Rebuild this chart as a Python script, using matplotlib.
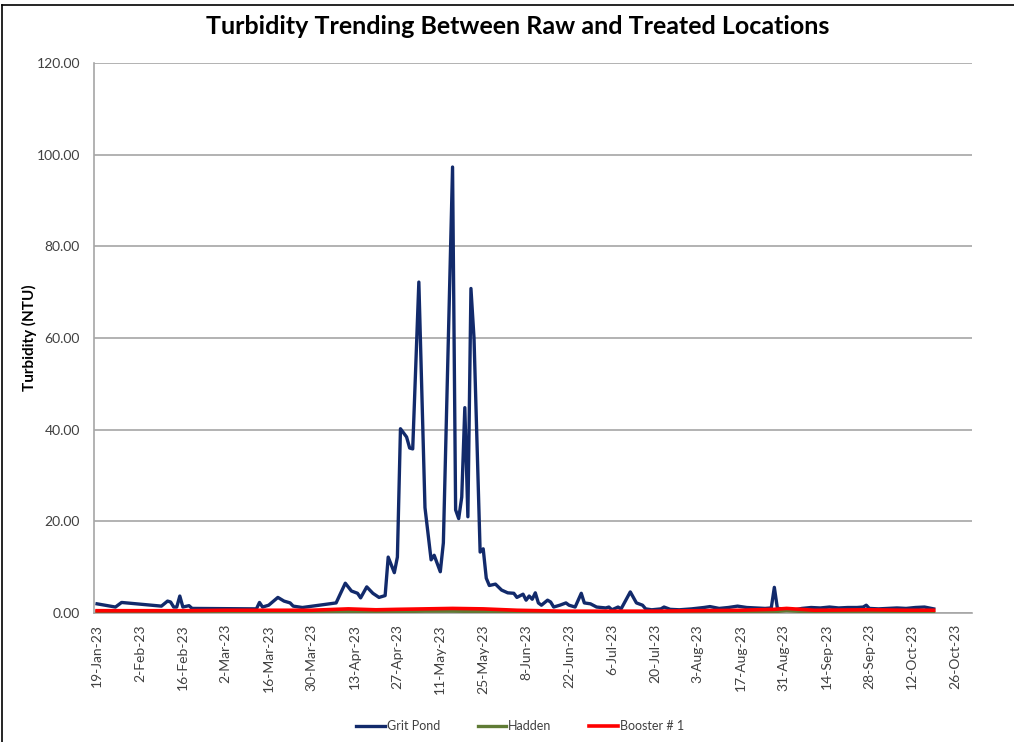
import matplotlib
matplotlib.use("Agg")
import matplotlib.pyplot as plt
import matplotlib.dates as mdates
from matplotlib.ticker import FuncFormatter, MultipleLocator
from matplotlib.lines import Line2D
import pandas as pd

# ---------------- data ----------------
grit_dates = [
    "2023-01-19", "2023-01-25", "2023-01-27", "2023-02-09", "2023-02-11", "2023-02-12",
    "2023-02-13", "2023-02-14", "2023-02-15", "2023-02-16", "2023-02-18", "2023-02-19",
    "2023-03-12", "2023-03-13", "2023-03-14", "2023-03-16", "2023-03-19", "2023-03-21",
    "2023-03-23", "2023-03-24", "2023-03-27", "2023-04-07", "2023-04-10", "2023-04-12",
    "2023-04-14", "2023-04-15", "2023-04-17", "2023-04-19", "2023-04-21", "2023-04-23",
    "2023-04-24", "2023-04-26", "2023-04-27", "2023-04-28", "2023-04-30", "2023-05-01",
    "2023-05-02", "2023-05-04", "2023-05-06", "2023-05-08", "2023-05-09", "2023-05-11",
    "2023-05-12", "2023-05-15", "2023-05-16", "2023-05-17", "2023-05-18", "2023-05-19",
    "2023-05-20", "2023-05-21", "2023-05-22", "2023-05-24", "2023-05-25", "2023-05-26",
    "2023-05-27", "2023-05-29", "2023-05-31", "2023-06-02", "2023-06-04", "2023-06-05",
    "2023-06-07", "2023-06-08", "2023-06-09", "2023-06-10", "2023-06-11", "2023-06-12",
    "2023-06-13", "2023-06-15", "2023-06-16", "2023-06-17", "2023-06-19", "2023-06-21",
    "2023-06-22", "2023-06-24", "2023-06-26", "2023-06-27", "2023-06-29", "2023-07-01",
    "2023-07-04", "2023-07-05", "2023-07-06", "2023-07-08", "2023-07-09", "2023-07-12",
    "2023-07-14", "2023-07-16", "2023-07-17", "2023-07-19", "2023-07-22", "2023-07-23",
    "2023-07-25", "2023-07-28", "2023-08-01", "2023-08-05", "2023-08-07", "2023-08-10",
    "2023-08-13", "2023-08-16", "2023-08-19", "2023-08-22", "2023-08-25", "2023-08-27",
    "2023-08-28", "2023-08-29", "2023-08-31", "2023-09-03", "2023-09-06", "2023-09-09",
    "2023-09-12", "2023-09-15", "2023-09-18", "2023-09-21", "2023-09-24", "2023-09-26",
    "2023-09-27", "2023-09-28", "2023-10-01", "2023-10-04", "2023-10-07", "2023-10-10",
    "2023-10-13", "2023-10-16", "2023-10-19",
]
grit_pond = [
    2.0, 1.3, 2.3, 1.5, 2.6, 2.4,
    1.3, 1.3, 3.7, 1.3, 1.6, 1.0,
    0.9, 2.3, 1.3, 1.7, 3.4, 2.6,
    2.2, 1.5, 1.2, 2.2, 6.5, 4.8,
    4.3, 3.3, 5.7, 4.3, 3.4, 3.8,
    12.2, 8.8, 12.2, 40.2, 38.4, 36.0,
    35.8, 72.2, 23.0, 11.6, 12.6, 9.0,
    15.3, 97.3, 22.5, 20.6, 25.3, 44.8,
    21.0, 70.8, 60.0, 13.3, 14.0, 7.6,
    6.0, 6.3, 5.0, 4.4, 4.3, 3.4,
    4.1, 2.8, 3.7, 3.0, 4.4, 2.2,
    1.7, 2.8, 2.4, 1.3, 1.7, 2.2,
    1.7, 1.3, 4.3, 2.2, 2.0, 1.3,
    1.1, 1.3, 0.7, 1.3, 0.9, 4.6,
    2.2, 1.7, 0.9, 0.7, 0.9, 1.3,
    0.8, 0.7, 0.9, 1.2, 1.4, 1.0,
    1.2, 1.5, 1.2, 1.1, 1.0, 1.1,
    5.6, 1.0, 0.9, 0.6, 1.0, 1.2,
    1.1, 1.3, 1.1, 1.2, 1.2, 1.3,
    1.7, 1.0, 0.9, 1.0, 1.1, 1.0,
    1.2, 1.3, 0.9,
]

treated_dates = [
    "2023-01-19", "2023-02-02", "2023-02-16", "2023-03-02", "2023-03-16", "2023-03-30",
    "2023-04-11", "2023-04-20", "2023-04-27", "2023-05-06", "2023-05-15", "2023-05-25",
    "2023-06-05", "2023-06-20", "2023-07-06", "2023-07-20", "2023-08-03", "2023-08-17",
    "2023-08-28", "2023-09-01", "2023-09-10", "2023-09-28", "2023-10-10", "2023-10-19",
]
hadden = [
    0.3, 0.3, 0.2, 0.2, 0.2, 0.2,
    0.3, 0.3, 0.3, 0.4, 0.4, 0.3,
    0.2, 0.2, 0.2, 0.2, 0.2, 0.2,
    0.3, 0.5, 0.2, 0.2, 0.2, 0.2,
]
booster1 = [
    0.5, 0.5, 0.5, 0.6, 0.6, 0.6,
    0.9, 0.7, 0.8, 0.9, 1.0, 0.9,
    0.6, 0.4, 0.4, 0.4, 0.5, 0.6,
    0.8, 1.0, 0.6, 0.7, 0.6, 0.6,
]

tick_start = "2023-01-19"
series_names = ["Grit Pond", "Hadden", "Booster # 1"]
title = "Turbidity Trending Between Raw and Treated Locations"
ylabel = "Turbidity (NTU)"

# ---------------- plot ----------------
font = "Lato"
plt.rcParams["font.family"] = [font, "DejaVu Sans"]

fig = plt.figure(figsize=(10.14, 7.42), dpi=100)
ax = fig.add_axes([94 / 1014, 1 - 613 / 742, (972 - 94) / 1014, (613 - 63) / 742])

gd = pd.to_datetime(grit_dates)
td = pd.to_datetime(treated_dates)

l1, = ax.plot(gd, grit_pond, color="#122a6b", lw=2.4, solid_joinstyle="round", zorder=3)
l2, = ax.plot(td, hadden, color="#5f7b35", lw=2.4, zorder=4)
l3, = ax.plot(td, booster1, color="#ff0000", lw=2.6, zorder=5)

t0 = pd.Timestamp(tick_start)
ticks = [t0 + pd.Timedelta(days=14 * k) for k in range(21)]
ax.set_xticks(ticks)
ax.xaxis.set_major_formatter(
    FuncFormatter(lambda v, p: (lambda d: f"{d.day}-{d.strftime('%b-%y')}")(mdates.num2date(v)))
)
ax.set_xlim(t0 - pd.Timedelta(days=1), t0 + pd.Timedelta(days=285.5))
ax.set_ylim(0, 120)
ax.yaxis.set_major_locator(MultipleLocator(20))
ax.yaxis.set_major_formatter(FuncFormatter(lambda v, p: f"{v:.2f}"))

ax.grid(axis="y", color="#a6a6a6", lw=1.2)
ax.set_axisbelow(True)
for s in ["top", "right"]:
    ax.spines[s].set_visible(False)
for s in ["left", "bottom"]:
    ax.spines[s].set_color("#a6a6a6")
    ax.spines[s].set_linewidth(1.2)
ax.tick_params(axis="both", length=0, colors="#404040", labelsize=10)
ax.tick_params(axis="x", rotation=90, pad=8)
ax.tick_params(axis="y", pad=10)

ax.set_ylabel(ylabel, fontsize=11, fontweight="bold", color="#000000", labelpad=0)

fig.text(0.511, 1 - 27 / 742, title, ha="center", va="center", fontsize=18, fontweight="bold")

fig.legend([l1, l2, l3], series_names, loc="center", bbox_to_anchor=(0.513, 1 - 726 / 742),
           ncol=3, frameon=False, fontsize=9, handlelength=2.3, handletextpad=0.15,
           columnspacing=3.0, labelcolor="#404040")

# frame lines (top and left) as in the screenshot
fig.add_artist(Line2D([2 / 1014, 1], [1 - 5 / 742, 1 - 5 / 742], transform=fig.transFigure,
                      color="black", lw=1.2))
fig.add_artist(Line2D([2 / 1014, 2 / 1014], [0, 1 - 5 / 742], transform=fig.transFigure,
                      color="black", lw=1.2))

fig.savefig("out.png", dpi=100)
